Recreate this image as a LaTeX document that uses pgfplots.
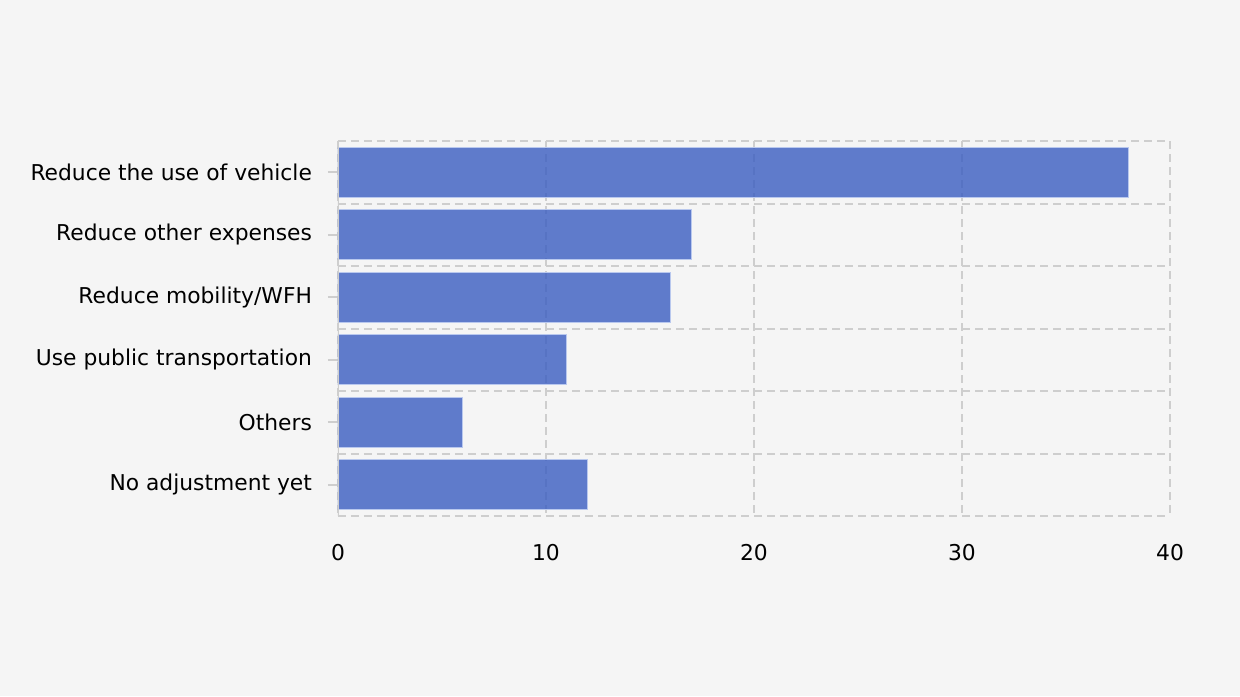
\documentclass[border=0pt]{standalone}
\usepackage{pgfplots}
\pgfplotsset{compat=1.18}
\usepackage{fontspec}
\setmainfont{DejaVu Sans}
\definecolor{bg}{RGB}{245,245,245}
\definecolor{barc}{RGB}{58,93,193}
\definecolor{barl}{RGB}{185,200,238}
\definecolor{gridc}{RGB}{206,206,206}
\begin{document}
\begin{tikzpicture}
\fill[bg] (-169pt,-90pt) rectangle (451pt,258pt);
\begin{axis}[
  at={(0pt,0pt)}, anchor=south west,
  scale only axis, width=416pt, height=187.5pt,
  xbar, bar width=0.8,
  xmin=0, xmax=40, ymin=-0.5, ymax=5.5, y dir=reverse,
  ytick={0,1,2,3,4,5},
  yticklabels={Reduce the use of vehicle, Reduce other expenses, Reduce mobility/WFH, Use public transportation, Others, No adjustment yet},
  minor ytick={-0.5,0.5,1.5,2.5,3.5,4.5,5.5},
  xtick={0,10,20,30,40},
  ytick pos=left,
  xmajorgrids, yminorgrids,
  major grid style={gridc, line width=1pt, dash pattern=on 4pt off 2.5pt},
  minor grid style={gridc, line width=1pt, dash pattern=on 4pt off 2.5pt},
  axis line style={draw=none},
  tick align=outside,
  major tick length=5pt, minor tick length=0pt,
  ytick style={gridc, line width=1pt},
  xtick style={draw=none},
  /pgf/number format/assume math mode=true,
  ticklabel style={font=\fontsize{10.9}{13}\selectfont, text=black},
  yticklabel style={xshift=-4.5pt},
  xticklabel style={yshift=-5.5pt},
]
\addplot[fill=barc, fill opacity=0.8, draw=barl, line width=0.5pt]
  coordinates {(38,0) (17,1) (16,2) (11,3) (6,4) (12,5)};
\draw[gridc, line width=1pt] (rel axis cs:0,0) -- (rel axis cs:0,1);
\end{axis}
\end{tikzpicture}
\end{document}
